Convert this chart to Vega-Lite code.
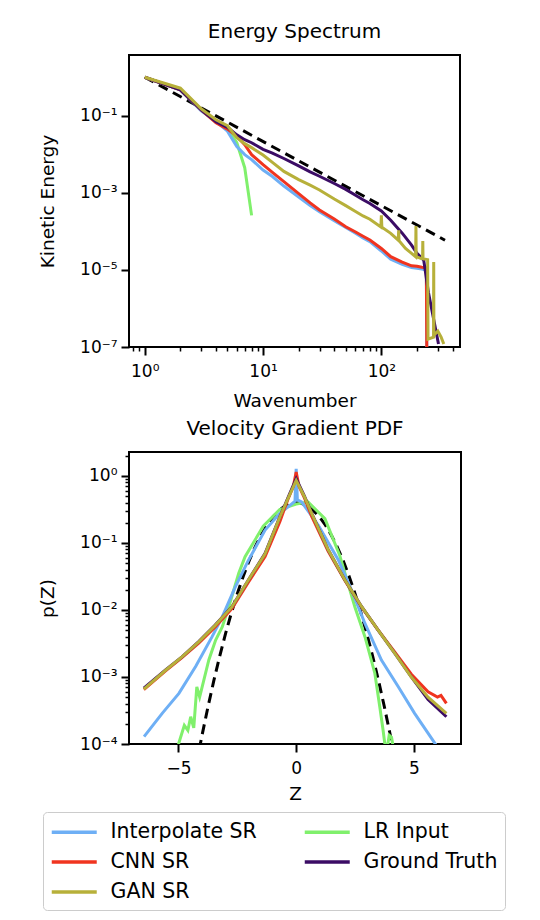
{
  "$schema": "https://vega.github.io/schema/vega-lite/v6.json",
  "background": "white",
  "padding": {"left": 36, "top": 21, "right": 5, "bottom": 5},
  "datasets": {
    "specRef": [{"k": 1, "E": 1}, {"k": 345, "E": 5.9e-5}],
    "spec": [
      {"s": "LR Input", "k": 1, "E": 1}, {"s": "LR Input", "k": 2, "E": 0.47}, {"s": "LR Input", "k": 3, "E": 0.14}, {"s": "LR Input", "k": 4, "E": 0.07}, {"s": "LR Input", "k": 5, "E": 0.045}, {"s": "LR Input", "k": 6, "E": 0.02}, {"s": "LR Input", "k": 7, "E": 0.0045}, {"s": "LR Input", "k": 8, "E": 0.00026},
      {"s": "Interpolate SR", "k": 1, "E": 1}, {"s": "Interpolate SR", "k": 2, "E": 0.47}, {"s": "Interpolate SR", "k": 3, "E": 0.135}, {"s": "Interpolate SR", "k": 4, "E": 0.072}, {"s": "Interpolate SR", "k": 5, "E": 0.04}, {"s": "Interpolate SR", "k": 6, "E": 0.016}, {"s": "Interpolate SR", "k": 7, "E": 0.0098}, {"s": "Interpolate SR", "k": 8, "E": 0.0073}, {"s": "Interpolate SR", "k": 10, "E": 0.0039}, {"s": "Interpolate SR", "k": 12, "E": 0.00265}, {"s": "Interpolate SR", "k": 15, "E": 0.0015}, {"s": "Interpolate SR", "k": 20, "E": 0.00078}, {"s": "Interpolate SR", "k": 25, "E": 0.00047}, {"s": "Interpolate SR", "k": 30, "E": 0.000325}, {"s": "Interpolate SR", "k": 40, "E": 0.00019}, {"s": "Interpolate SR", "k": 50, "E": 0.000126}, {"s": "Interpolate SR", "k": 60, "E": 9.1e-5}, {"s": "Interpolate SR", "k": 70, "E": 6.8e-5}, {"s": "Interpolate SR", "k": 80, "E": 5.4e-5}, {"s": "Interpolate SR", "k": 100, "E": 3.1e-5}, {"s": "Interpolate SR", "k": 120, "E": 1.9e-5}, {"s": "Interpolate SR", "k": 150, "E": 1.4e-5}, {"s": "Interpolate SR", "k": 180, "E": 1.15e-5}, {"s": "Interpolate SR", "k": 200, "E": 1.1e-5}, {"s": "Interpolate SR", "k": 220, "E": 1.05e-5}, {"s": "Interpolate SR", "k": 240, "E": 1.0e-5}, {"s": "Interpolate SR", "k": 244, "E": 1e-9},
      {"s": "CNN SR", "k": 1, "E": 1}, {"s": "CNN SR", "k": 2, "E": 0.47}, {"s": "CNN SR", "k": 3, "E": 0.143}, {"s": "CNN SR", "k": 4, "E": 0.066}, {"s": "CNN SR", "k": 5, "E": 0.045}, {"s": "CNN SR", "k": 6, "E": 0.03}, {"s": "CNN SR", "k": 7, "E": 0.0178}, {"s": "CNN SR", "k": 8, "E": 0.0098}, {"s": "CNN SR", "k": 10, "E": 0.0054}, {"s": "CNN SR", "k": 12, "E": 0.0034}, {"s": "CNN SR", "k": 15, "E": 0.00196}, {"s": "CNN SR", "k": 20, "E": 0.00096}, {"s": "CNN SR", "k": 25, "E": 0.00055}, {"s": "CNN SR", "k": 30, "E": 0.00036}, {"s": "CNN SR", "k": 40, "E": 0.00021}, {"s": "CNN SR", "k": 50, "E": 0.000132}, {"s": "CNN SR", "k": 60, "E": 9.8e-5}, {"s": "CNN SR", "k": 70, "E": 7.5e-5}, {"s": "CNN SR", "k": 80, "E": 6.0e-5}, {"s": "CNN SR", "k": 100, "E": 3.6e-5}, {"s": "CNN SR", "k": 120, "E": 2.2e-5}, {"s": "CNN SR", "k": 150, "E": 1.6e-5}, {"s": "CNN SR", "k": 180, "E": 1.28e-5}, {"s": "CNN SR", "k": 200, "E": 1.24e-5}, {"s": "CNN SR", "k": 220, "E": 1.17e-5}, {"s": "CNN SR", "k": 240, "E": 1.13e-5}, {"s": "CNN SR", "k": 244, "E": 1e-9},
      {"s": "Ground Truth", "k": 1, "E": 1}, {"s": "Ground Truth", "k": 2, "E": 0.47}, {"s": "Ground Truth", "k": 3, "E": 0.143}, {"s": "Ground Truth", "k": 4, "E": 0.07}, {"s": "Ground Truth", "k": 5, "E": 0.05}, {"s": "Ground Truth", "k": 6, "E": 0.032}, {"s": "Ground Truth", "k": 7, "E": 0.024}, {"s": "Ground Truth", "k": 8, "E": 0.02}, {"s": "Ground Truth", "k": 10, "E": 0.0135}, {"s": "Ground Truth", "k": 12, "E": 0.0108}, {"s": "Ground Truth", "k": 15, "E": 0.0078}, {"s": "Ground Truth", "k": 20, "E": 0.005}, {"s": "Ground Truth", "k": 25, "E": 0.0035}, {"s": "Ground Truth", "k": 30, "E": 0.0027}, {"s": "Ground Truth", "k": 40, "E": 0.00175}, {"s": "Ground Truth", "k": 50, "E": 0.00123}, {"s": "Ground Truth", "k": 60, "E": 0.00088}, {"s": "Ground Truth", "k": 70, "E": 0.00066}, {"s": "Ground Truth", "k": 80, "E": 0.00053}, {"s": "Ground Truth", "k": 100, "E": 0.00034}, {"s": "Ground Truth", "k": 120, "E": 0.000195}, {"s": "Ground Truth", "k": 150, "E": 9e-5}, {"s": "Ground Truth", "k": 180, "E": 4.4e-5}, {"s": "Ground Truth", "k": 200, "E": 2.7e-5}, {"s": "Ground Truth", "k": 228, "E": 1.8e-5}, {"s": "Ground Truth", "k": 250, "E": 2.6e-6}, {"s": "Ground Truth", "k": 304, "E": 1.2e-7},
      {"s": "GAN SR", "k": 1, "E": 1}, {"s": "GAN SR", "k": 2, "E": 0.52}, {"s": "GAN SR", "k": 3, "E": 0.152}, {"s": "GAN SR", "k": 4, "E": 0.079}, {"s": "GAN SR", "k": 5, "E": 0.055}, {"s": "GAN SR", "k": 6, "E": 0.027}, {"s": "GAN SR", "k": 7, "E": 0.0189}, {"s": "GAN SR", "k": 8, "E": 0.0149}, {"s": "GAN SR", "k": 10, "E": 0.0096}, {"s": "GAN SR", "k": 12, "E": 0.0062}, {"s": "GAN SR", "k": 15, "E": 0.0036}, {"s": "GAN SR", "k": 20, "E": 0.0022}, {"s": "GAN SR", "k": 25, "E": 0.00158}, {"s": "GAN SR", "k": 30, "E": 0.00119}, {"s": "GAN SR", "k": 40, "E": 0.00069}, {"s": "GAN SR", "k": 50, "E": 0.000465}, {"s": "GAN SR", "k": 60, "E": 0.000333}, {"s": "GAN SR", "k": 70, "E": 0.000252}, {"s": "GAN SR", "k": 80, "E": 0.000207}, {"s": "GAN SR", "k": 99, "E": 0.00013}, {"s": "GAN SR", "k": 100, "E": 0.00026}, {"s": "GAN SR", "k": 101, "E": 0.000128}, {"s": "GAN SR", "k": 120, "E": 8.9e-5}, {"s": "GAN SR", "k": 139, "E": 5.9e-5}, {"s": "GAN SR", "k": 140, "E": 0.000106}, {"s": "GAN SR", "k": 141, "E": 5.7e-5}, {"s": "GAN SR", "k": 160, "E": 3.6e-5}, {"s": "GAN SR", "k": 180, "E": 2.7e-5}, {"s": "GAN SR", "k": 195, "E": 2.2e-5}, {"s": "GAN SR", "k": 196, "E": 0.000137}, {"s": "GAN SR", "k": 197, "E": 2.2e-5}, {"s": "GAN SR", "k": 215, "E": 2.0e-5}, {"s": "GAN SR", "k": 223, "E": 1.95e-5}, {"s": "GAN SR", "k": 224, "E": 5.6e-5}, {"s": "GAN SR", "k": 225, "E": 1.95e-5}, {"s": "GAN SR", "k": 246, "E": 1.85e-5}, {"s": "GAN SR", "k": 248, "E": 1.6e-7}, {"s": "GAN SR", "k": 276, "E": 1.8e-7}, {"s": "GAN SR", "k": 277, "E": 1.6e-5}, {"s": "GAN SR", "k": 278, "E": 2.0e-7}, {"s": "GAN SR", "k": 300, "E": 2.6e-7}, {"s": "GAN SR", "k": 320, "E": 1.8e-7}, {"s": "GAN SR", "k": 337, "E": 1.2e-7}
    ],
    "pdfRef": [
      {"z": -4.25, "p": 4.77e-5}, {"z": -4.0, "p": 1.34e-4}, {"z": -3.75, "p": 3.53e-4}, {"z": -3.5, "p": 8.73e-4}, {"z": -3.25, "p": 0.00203}, {"z": -3.0, "p": 0.00443}, {"z": -2.75, "p": 0.00909}, {"z": -2.5, "p": 0.0175}, {"z": -2.25, "p": 0.0317}, {"z": -2.0, "p": 0.054}, {"z": -1.75, "p": 0.0863}, {"z": -1.5, "p": 0.1295}, {"z": -1.25, "p": 0.1826}, {"z": -1.0, "p": 0.242}, {"z": -0.75, "p": 0.3011}, {"z": -0.5, "p": 0.3521}, {"z": -0.25, "p": 0.3867}, {"z": 0, "p": 0.3989}, {"z": 0.25, "p": 0.3867}, {"z": 0.5, "p": 0.3521}, {"z": 0.75, "p": 0.3011}, {"z": 1.0, "p": 0.242}, {"z": 1.25, "p": 0.1826}, {"z": 1.5, "p": 0.1295}, {"z": 1.75, "p": 0.0863}, {"z": 2.0, "p": 0.054}, {"z": 2.25, "p": 0.0317}, {"z": 2.5, "p": 0.0175}, {"z": 2.75, "p": 0.00909}, {"z": 3.0, "p": 0.00443}, {"z": 3.25, "p": 0.00203}, {"z": 3.5, "p": 8.73e-4}, {"z": 3.75, "p": 3.53e-4}, {"z": 4.0, "p": 1.34e-4}, {"z": 4.25, "p": 4.77e-5}
    ],
    "pdf": [
      {"s": "LR Input", "z": -5.1, "p": 7.9e-5}, {"s": "LR Input", "z": -4.99, "p": 1.02e-4}, {"s": "LR Input", "z": -4.75, "p": 1.9e-4}, {"s": "LR Input", "z": -4.6, "p": 1.6e-4}, {"s": "LR Input", "z": -4.48, "p": 2.55e-4}, {"s": "LR Input", "z": -4.35, "p": 1.74e-4}, {"s": "LR Input", "z": -4.22, "p": 7.1e-4}, {"s": "LR Input", "z": -4.1, "p": 5.0e-4}, {"s": "LR Input", "z": -3.99, "p": 7.2e-4}, {"s": "LR Input", "z": -3.71, "p": 0.0018}, {"s": "LR Input", "z": -3.42, "p": 0.00356}, {"s": "LR Input", "z": -3.14, "p": 0.0056}, {"s": "LR Input", "z": -2.86, "p": 0.0112}, {"s": "LR Input", "z": -2.44, "p": 0.0353}, {"s": "LR Input", "z": -2.17, "p": 0.0625}, {"s": "LR Input", "z": -1.4, "p": 0.178}, {"s": "LR Input", "z": -0.7, "p": 0.316}, {"s": "LR Input", "z": 0, "p": 0.38}, {"s": "LR Input", "z": 0.5, "p": 0.41}, {"s": "LR Input", "z": 1.22, "p": 0.231}, {"s": "LR Input", "z": 1.85, "p": 0.065}, {"s": "LR Input", "z": 2.49, "p": 0.0112}, {"s": "LR Input", "z": 2.92, "p": 0.004}, {"s": "LR Input", "z": 3.34, "p": 0.00114}, {"s": "LR Input", "z": 3.55, "p": 3.6e-4}, {"s": "LR Input", "z": 3.69, "p": 1.62e-4}, {"s": "LR Input", "z": 3.76, "p": 1.04e-4}, {"s": "LR Input", "z": 3.85, "p": 7.9e-5}, {"s": "LR Input", "z": 3.95, "p": 1.35e-4}, {"s": "LR Input", "z": 4.05, "p": 1.26e-4}, {"s": "LR Input", "z": 4.15, "p": 7.9e-5},
      {"s": "Interpolate SR", "z": -6.46, "p": 1.29e-4}, {"s": "Interpolate SR", "z": -5.69, "p": 2.87e-4}, {"s": "Interpolate SR", "z": -4.98, "p": 5.7e-4}, {"s": "Interpolate SR", "z": -4.27, "p": 0.00143}, {"s": "Interpolate SR", "z": -3.57, "p": 0.004}, {"s": "Interpolate SR", "z": -3.14, "p": 0.0079}, {"s": "Interpolate SR", "z": -2.58, "p": 0.0223}, {"s": "Interpolate SR", "z": -2.03, "p": 0.055}, {"s": "Interpolate SR", "z": -1.32, "p": 0.156}, {"s": "Interpolate SR", "z": -0.69, "p": 0.277}, {"s": "Interpolate SR", "z": -0.2, "p": 0.38}, {"s": "Interpolate SR", "z": -0.05, "p": 0.42}, {"s": "Interpolate SR", "z": 0, "p": 1.28}, {"s": "Interpolate SR", "z": 0.05, "p": 0.44}, {"s": "Interpolate SR", "z": 0.23, "p": 0.41}, {"s": "Interpolate SR", "z": 0.94, "p": 0.184}, {"s": "Interpolate SR", "z": 1.79, "p": 0.0557}, {"s": "Interpolate SR", "z": 2.4, "p": 0.018}, {"s": "Interpolate SR", "z": 2.92, "p": 0.0063}, {"s": "Interpolate SR", "z": 3.62, "p": 0.00179}, {"s": "Interpolate SR", "z": 4.33, "p": 7.2e-4}, {"s": "Interpolate SR", "z": 5.03, "p": 2.87e-4}, {"s": "Interpolate SR", "z": 5.88, "p": 1.04e-4}, {"s": "Interpolate SR", "z": 6.38, "p": 5.6e-5},
      {"s": "CNN SR", "z": -6.47, "p": 6.5e-4}, {"s": "CNN SR", "z": -5.56, "p": 0.00122}, {"s": "CNN SR", "z": -4.85, "p": 0.00195}, {"s": "CNN SR", "z": -4.14, "p": 0.0032}, {"s": "CNN SR", "z": -3.44, "p": 0.0056}, {"s": "CNN SR", "z": -2.73, "p": 0.0105}, {"s": "CNN SR", "z": -2.03, "p": 0.026}, {"s": "CNN SR", "z": -1.32, "p": 0.063}, {"s": "CNN SR", "z": -0.69, "p": 0.21}, {"s": "CNN SR", "z": -0.35, "p": 0.45}, {"s": "CNN SR", "z": -0.12, "p": 0.7}, {"s": "CNN SR", "z": 0, "p": 1.15}, {"s": "CNN SR", "z": 0.12, "p": 0.7}, {"s": "CNN SR", "z": 0.35, "p": 0.47}, {"s": "CNN SR", "z": 0.66, "p": 0.25}, {"s": "CNN SR", "z": 1.36, "p": 0.075}, {"s": "CNN SR", "z": 2.07, "p": 0.0275}, {"s": "CNN SR", "z": 2.78, "p": 0.011}, {"s": "CNN SR", "z": 3.48, "p": 0.005}, {"s": "CNN SR", "z": 4.19, "p": 0.00235}, {"s": "CNN SR", "z": 4.89, "p": 0.0011}, {"s": "CNN SR", "z": 5.6, "p": 6.0e-4}, {"s": "CNN SR", "z": 6.0, "p": 5.0e-4}, {"s": "CNN SR", "z": 6.15, "p": 5.3e-4}, {"s": "CNN SR", "z": 6.38, "p": 4.05e-4},
      {"s": "Ground Truth", "z": -6.47, "p": 6.8e-4}, {"s": "Ground Truth", "z": -5.56, "p": 0.00127}, {"s": "Ground Truth", "z": -4.85, "p": 0.002}, {"s": "Ground Truth", "z": -4.14, "p": 0.00337}, {"s": "Ground Truth", "z": -3.44, "p": 0.00597}, {"s": "Ground Truth", "z": -2.73, "p": 0.0112}, {"s": "Ground Truth", "z": -2.03, "p": 0.0281}, {"s": "Ground Truth", "z": -1.32, "p": 0.07}, {"s": "Ground Truth", "z": -0.69, "p": 0.247}, {"s": "Ground Truth", "z": -0.35, "p": 0.47}, {"s": "Ground Truth", "z": 0, "p": 0.91}, {"s": "Ground Truth", "z": 0.35, "p": 0.5}, {"s": "Ground Truth", "z": 0.66, "p": 0.277}, {"s": "Ground Truth", "z": 1.36, "p": 0.079}, {"s": "Ground Truth", "z": 2.07, "p": 0.0281}, {"s": "Ground Truth", "z": 2.78, "p": 0.0112}, {"s": "Ground Truth", "z": 3.48, "p": 0.005}, {"s": "Ground Truth", "z": 4.19, "p": 0.00226}, {"s": "Ground Truth", "z": 4.89, "p": 0.001}, {"s": "Ground Truth", "z": 5.6, "p": 4.6e-4}, {"s": "Ground Truth", "z": 6.38, "p": 2.55e-4},
      {"s": "GAN SR", "z": -6.47, "p": 6.6e-4}, {"s": "GAN SR", "z": -5.56, "p": 0.00125}, {"s": "GAN SR", "z": -4.85, "p": 0.00199}, {"s": "GAN SR", "z": -4.14, "p": 0.00335}, {"s": "GAN SR", "z": -3.44, "p": 0.0059}, {"s": "GAN SR", "z": -2.73, "p": 0.0111}, {"s": "GAN SR", "z": -2.03, "p": 0.028}, {"s": "GAN SR", "z": -1.32, "p": 0.069}, {"s": "GAN SR", "z": -0.69, "p": 0.245}, {"s": "GAN SR", "z": -0.35, "p": 0.46}, {"s": "GAN SR", "z": 0, "p": 0.86}, {"s": "GAN SR", "z": 0.35, "p": 0.49}, {"s": "GAN SR", "z": 0.66, "p": 0.275}, {"s": "GAN SR", "z": 1.36, "p": 0.079}, {"s": "GAN SR", "z": 2.07, "p": 0.0281}, {"s": "GAN SR", "z": 2.78, "p": 0.0112}, {"s": "GAN SR", "z": 3.48, "p": 0.005}, {"s": "GAN SR", "z": 4.19, "p": 0.00226}, {"s": "GAN SR", "z": 4.89, "p": 0.001}, {"s": "GAN SR", "z": 5.6, "p": 5.0e-4}, {"s": "GAN SR", "z": 6.38, "p": 2.87e-4}
    ]
  },
  "spacing": 105,
  "bounds": "flush",
  "resolve": {"legend": {"color": "independent"}},
  "vconcat": [
    {
      "width": 331,
      "height": 292,
      "title": {"text": "Energy Spectrum", "offset": 13},
      "layer": [
        {
          "data": {"name": "specRef"},
          "mark": {"type": "line", "color": "black", "strokeWidth": 3, "strokeDash": [10, 6], "clip": true},
          "encoding": {
            "x": {"field": "k", "type": "quantitative", "scale": {"type": "log", "domain": [0.736, 462], "nice": false},
              "axis": {"title": "Wavenumber", "values": [0.8, 0.9, 1, 2, 3, 4, 5, 6, 7, 8, 9, 10, 20, 30, 40, 50, 60, 70, 80, 90, 100, 200, 300, 400],
                "labelExpr": "abs(log(datum.value)/LN10 - round(log(datum.value)/LN10)) < 0.001 ? '10' + ['⁰','¹','²','³'][round(log(datum.value)/LN10)] : ''",
                "tickSize": {"condition": {"test": "abs(log(datum.value)/LN10 - round(log(datum.value)/LN10)) < 0.001", "value": 8}, "value": 4},
                "tickWidth": {"condition": {"test": "abs(log(datum.value)/LN10 - round(log(datum.value)/LN10)) < 0.001", "value": 2}, "value": 1.5},
                "labelPadding": 8, "titleY": 44, "titleX": 165.5}},
            "y": {"field": "E", "type": "quantitative", "scale": {"type": "log", "domain": [1e-7, 3.78], "nice": false},
              "axis": {"title": "Kinetic Energy", "values": [1e-7, 1e-5, 1e-3, 1e-1],
                "labelExpr": "'10⁻' + ['⁰','¹','²','³','⁴','⁵','⁶','⁷','⁸','⁹'][-round(log(datum.value)/LN10)]",
                "tickSize": 8, "tickWidth": 2, "titleX": -72, "titleY": 146}}
          }
        },
        {
          "data": {"name": "spec"},
          "mark": {"type": "line", "strokeWidth": 3, "clip": true},
          "encoding": {
            "x": {"field": "k", "type": "quantitative"},
            "y": {"field": "E", "type": "quantitative"},
            "color": {"field": "s", "type": "nominal",
              "scale": {"domain": ["Interpolate SR", "CNN SR", "GAN SR", "LR Input", "Ground Truth"], "range": ["#6eaff5", "#f0341f", "#b7b03a", "#80f06c", "#3b0c65"]},
              "legend": null}
          }
        }
      ]
    },
    {
      "width": 332,
      "height": 292,
      "title": {"text": "Velocity Gradient PDF", "offset": 8},
      "layer": [
        {
          "data": {"name": "pdfRef"},
          "mark": {"type": "line", "color": "black", "strokeWidth": 3, "strokeDash": [10, 6], "clip": true},
          "encoding": {
            "x": {"field": "z", "type": "quantitative", "scale": {"domain": [-7.1, 7.0], "nice": false, "zero": false},
              "axis": {"title": "Z", "values": [-5, 0, 5], "tickSize": 8, "tickWidth": 2, "labelPadding": 8, "titleY": 40, "titleX": 166}},
            "y": {"field": "p", "type": "quantitative", "scale": {"type": "log", "domain": [1e-4, 2.28], "nice": false},
              "axis": {"title": "p(Z)",
                "values": [1e-4, 2e-4, 3e-4, 4e-4, 5e-4, 6e-4, 7e-4, 8e-4, 9e-4, 1e-3, 2e-3, 3e-3, 4e-3, 5e-3, 6e-3, 7e-3, 8e-3, 9e-3, 1e-2, 2e-2, 3e-2, 4e-2, 5e-2, 6e-2, 7e-2, 8e-2, 9e-2, 0.1, 0.2, 0.3, 0.4, 0.5, 0.6, 0.7, 0.8, 0.9, 1, 2],
                "labelExpr": "abs(log(datum.value)/LN10 - round(log(datum.value)/LN10)) < 0.001 ? '10' + (round(log(datum.value)/LN10) < 0 ? '⁻' : '') + ['⁰','¹','²','³','⁴','⁵','⁶','⁷','⁸','⁹'][abs(round(log(datum.value)/LN10))] : ''",
                "tickSize": {"condition": {"test": "abs(log(datum.value)/LN10 - round(log(datum.value)/LN10)) < 0.001", "value": 8}, "value": 4},
                "tickWidth": {"condition": {"test": "abs(log(datum.value)/LN10 - round(log(datum.value)/LN10)) < 0.001", "value": 2}, "value": 1.5},
                "titleX": -72, "titleY": 146}}
          }
        },
        {
          "data": {"name": "pdf"},
          "mark": {"type": "line", "strokeWidth": 3, "clip": true},
          "encoding": {
            "x": {"field": "z", "type": "quantitative"},
            "y": {"field": "p", "type": "quantitative"},
            "color": {"field": "s", "type": "nominal",
              "scale": {"domain": ["Interpolate SR", "CNN SR", "GAN SR", "LR Input", "Ground Truth"], "range": ["#6eaff5", "#f0341f", "#b7b03a", "#80f06c", "#3b0c65"]},
              "legend": {"orient": "none", "legendX": -86, "legendY": 360, "columns": 2, "title": null,
                "labelFontSize": 20.5, "symbolType": "M-1,0H3", "symbolSize": 506, "symbolStrokeWidth": 3.5,
                "labelOffset": 34.5, "columnPadding": 40, "rowPadding": 6, "padding": 7,
                "strokeColor": "#cccccc", "cornerRadius": 4, "fillColor": "white", "labelLimit": 300}}
          }
        }
      ]
    }
  ],
  "config": {
    "font": "DejaVu Sans",
    "view": {"stroke": "black", "strokeWidth": 2},
    "axis": {"grid": false, "domain": false, "tickColor": "black", "labelColor": "black", "titleColor": "black",
      "labelFontSize": 17, "titleFontSize": 18.5, "titleFontWeight": "normal", "labelOverlap": false, "labelFlush": false, "labelPadding": 4},
    "title": {"fontSize": 20, "fontWeight": "normal", "color": "black", "offset": 16, "baseline": "alphabetic"},
    "legend": {"labelColor": "black"}
  }
}
